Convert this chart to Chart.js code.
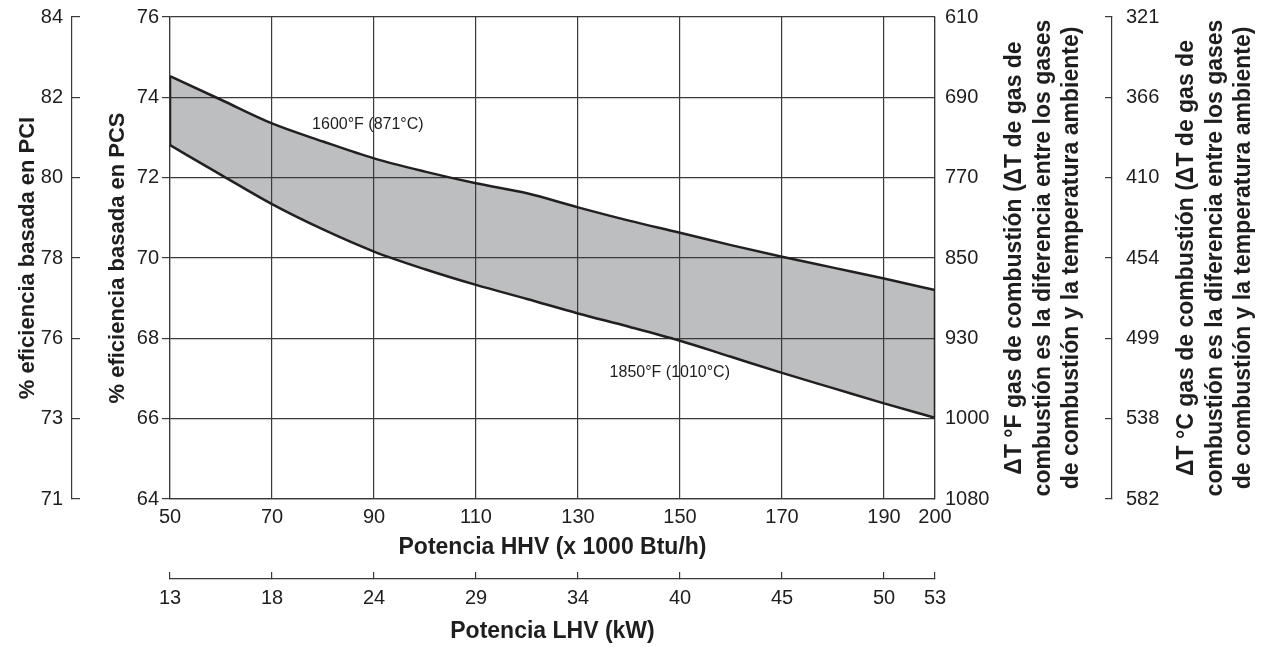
<!DOCTYPE html>
<html>
<head>
<meta charset="utf-8">
<script src="https://cdn.jsdelivr.net/npm/chart.js@4.4.1/dist/chart.umd.min.js"></script>
<style>
  html, body { margin: 0; padding: 0; background: #fff; }
  canvas { display: block; }
</style>
</head>
<body>
<canvas id="chart" width="1266" height="648"></canvas>
<script>
// --- DADOS ---
// potencia HHV (x 1000 Btu/h)
const hhv = [50, 60, 70, 80, 90, 100, 110, 120, 130, 140, 150, 160, 170, 180, 190, 200];
// % eficiencia PCS, curva 1600°F (871°C)
const upper = [74.53, 73.94, 73.35, 72.90, 72.48, 72.15, 71.86, 71.61, 71.26, 70.93, 70.63, 70.32, 70.03, 69.76, 69.49, 69.20];
// % eficiencia PCS, curva 1850°F (1010°C)
const lower = [72.81, 72.07, 71.34, 70.71, 70.16, 69.72, 69.33, 68.98, 68.62, 68.29, 67.94, 67.54, 67.14, 66.76, 66.38, 66.02];

// ejes
const hhvTicks = [50, 70, 90, 110, 130, 150, 170, 190, 200];
const lhvLabels = ['13', '18', '24', '29', '34', '40', '45', '50', '53'];
const pcsTicks = [64, 66, 68, 70, 72, 74, 76];
const pciLabels = ['71', '73', '76', '78', '80', '82', '84'];
const fLabels = ['1080', '1000', '930', '850', '770', '690', '610'];
const cLabels = ['582', '538', '499', '454', '410', '366', '321'];

const curveLabels = ['1600°F (871°C)', '1850°F (1010°C)'];
const fTitle = ['ΔT °F gas de combustión (ΔT de gas de', 'combustión es la diferencia entre los gases', 'de combustión y la temperatura ambiente)'];
const cTitle = ['ΔT °C gas de combustión (ΔT de gas de', 'combustión es la diferencia entre los gases', 'de combustión y la temperatura ambiente)'];

const FONT = '"Liberation Sans", Arial, sans-serif';
const textColor = '#1e1e1e';
const gridColor = '#3a3a3a';
const lineColor = '#231f20';

Chart.defaults.font.family = FONT;
Chart.defaults.color = textColor;

// ticks fixos
function fixTicks(list) {
  return scale => { scale.ticks = list.map(v => ({ value: v })); };
}
// largura fixa do eixo vertical, sem folga extra em cima/baixo
function yWidth(w) {
  return s => { s.width = w; s.paddingTop = 0; s.paddingBottom = 0; };
}

// titulos dos eixos da direita (lidos de baixo para cima)
const rightTitles = {
  id: 'rightTitles',
  afterDraw(chart) {
    const ctx = chart.ctx;
    const midY = (chart.chartArea.top + chart.chartArea.bottom) / 2;
    [['yF', fTitle, 80], ['yC', cTitle, 75]].forEach(([id, lines, off]) => {
      const s = chart.scales[id];
      lines.forEach((t, i) => {
        ctx.save();
        ctx.font = 'bold 23px ' + FONT;
        ctx.fillStyle = textColor;
        ctx.textAlign = 'center';
        ctx.textBaseline = 'middle';
        ctx.translate(s.left + off + i * 28.5, midY);
        ctx.rotate(-Math.PI / 2);
        ctx.fillText(t, 0, 0);
        ctx.restore();
      });
    });
  }
};

// rotulos das curvas
const curveText = {
  id: 'curveText',
  afterDatasetsDraw(chart) {
    const ctx = chart.ctx;
    const x = chart.scales.x, y = chart.scales.y;
    const spots = [[88.8, 73.31], [148, 67.15]];
    ctx.save();
    ctx.font = '16px ' + FONT;
    ctx.fillStyle = textColor;
    ctx.textAlign = 'center';
    ctx.textBaseline = 'middle';
    curveLabels.forEach((t, i) => {
      ctx.fillText(t, x.getPixelForValue(spots[i][0]), y.getPixelForValue(spots[i][1]));
    });
    ctx.restore();
  }
};

const pts = arr => hhv.map((x, i) => ({ x: x, y: arr[i] }));
const edge = i => [{ x: hhv[i], y: upper[i] }, { x: hhv[i], y: lower[i] }];

new Chart(document.getElementById('chart'), {
  type: 'line',
  data: {
    datasets: [
      { data: pts(upper), borderColor: lineColor, borderWidth: 2.5, backgroundColor: '#bcbec0',
        fill: '+1', pointRadius: 0, tension: 0.4, cubicInterpolationMode: 'monotone' },
      { data: pts(lower), borderColor: lineColor, borderWidth: 2.5, fill: false,
        pointRadius: 0, tension: 0.4, cubicInterpolationMode: 'monotone' },
      { data: edge(0), borderColor: lineColor, borderWidth: 2.5, fill: false, pointRadius: 0 },
      { data: edge(hhv.length - 1), borderColor: lineColor, borderWidth: 2.5, fill: false, pointRadius: 0 }
    ]
  },
  options: {
    responsive: false,
    animation: false,
    events: [],
    layout: { padding: { top: 17, left: 0, right: 0, bottom: 0 } },
    plugins: {
      legend: { display: false },
      tooltip: { enabled: false },
      filler: { drawTime: 'beforeDraw' }   // cinza por baixo da grelha
    },
    scales: {
      x: {
        type: 'linear', position: 'bottom', weight: 0, min: 50, max: 200,
        afterBuildTicks: fixTicks(hhvTicks),
        afterFit: s => { s.height = 80; },
        grid: { color: gridColor, lineWidth: 1.2, drawTicks: false },
        border: { color: gridColor, width: 1.2 },
        ticks: { font: { size: 20 }, padding: 6, maxRotation: 0, autoSkip: false },
        title: { display: true, text: 'Potencia HHV (x 1000 Btu/h)', font: { size: 23, weight: 'bold' },
          padding: { top: 0, bottom: 18 } }
      },
      xL: {
        type: 'linear', position: 'bottom', weight: 1, min: 50, max: 200,
        afterBuildTicks: fixTicks(hhvTicks),
        afterFit: s => { s.height = 69; },
        grid: { drawOnChartArea: false, color: gridColor, lineWidth: 1.2, tickLength: -7 },
        border: { color: gridColor, width: 1.2 },
        ticks: { font: { size: 20 }, padding: 14, maxRotation: 0, autoSkip: false,
          callback: (v, i) => lhvLabels[i] },
        title: { display: true, text: 'Potencia LHV (kW)', font: { size: 23, weight: 'bold' },
          padding: { top: 0, bottom: 3 } }
      },
      y: {
        type: 'linear', position: 'left', weight: 0, min: 64, max: 76,
        afterBuildTicks: fixTicks(pcsTicks),
        afterFit: yWidth(98),
        grid: { color: gridColor, lineWidth: 1.2, tickLength: 8 },
        border: { color: gridColor, width: 1.2 },
        ticks: { font: { size: 20 }, padding: 3 },
        title: { display: true, text: '% eficiencia basada en PCS', font: { size: 22, weight: 'bold' },
          padding: { top: 33, bottom: 0 } }
      },
      yPCI: {
        type: 'linear', position: 'left', weight: 1, min: 64, max: 76,
        afterBuildTicks: fixTicks(pcsTicks),
        afterFit: yWidth(72),
        grid: { drawOnChartArea: false, color: gridColor, lineWidth: 1.2, tickLength: -8 },
        border: { color: gridColor, width: 1.2 },
        ticks: { font: { size: 20 }, padding: 17, callback: (v, i) => pciLabels[i] },
        title: { display: true, text: '% eficiencia basada en PCI', font: { size: 22, weight: 'bold' },
          padding: { top: 15, bottom: 0 } }
      },
      yF: {
        type: 'linear', position: 'right', weight: 0, min: 64, max: 76,
        afterBuildTicks: fixTicks(pcsTicks),
        afterFit: yWidth(177),
        grid: { drawOnChartArea: false, drawTicks: false, color: gridColor, lineWidth: 1.2 },
        border: { color: gridColor, width: 1.2 },
        ticks: { font: { size: 20 }, padding: 10, callback: (v, i) => fLabels[i] }
      },
      yC: {
        type: 'linear', position: 'right', weight: 1, min: 64, max: 76,
        afterBuildTicks: fixTicks(pcsTicks),
        afterFit: yWidth(154),
        grid: { drawOnChartArea: false, color: gridColor, lineWidth: 1.2, tickLength: -7 },
        border: { color: gridColor, width: 1.2 },
        ticks: { font: { size: 20 }, padding: 21, callback: (v, i) => cLabels[i] }
      }
    }
  },
  plugins: [curveText, rightTitles]
});
</script>
</body>
</html>
